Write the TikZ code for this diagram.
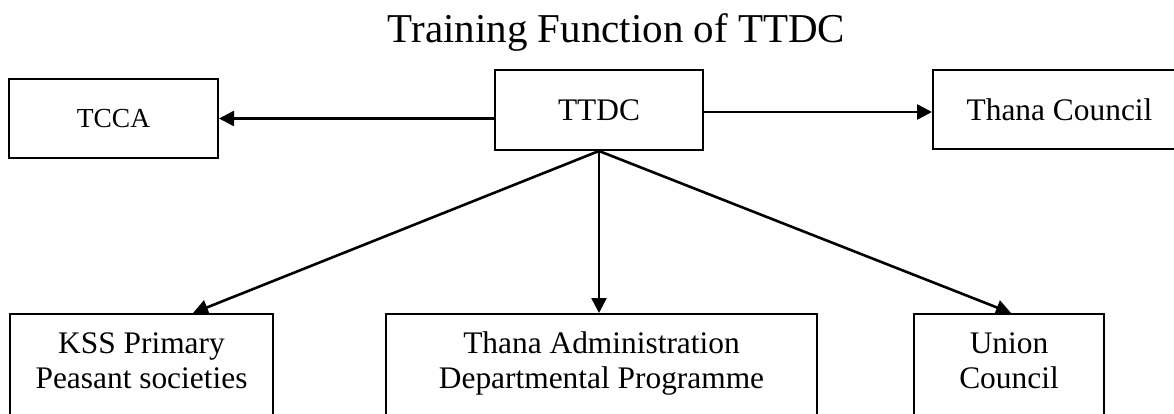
\documentclass[tikz,border=0pt]{standalone}
\usepackage{fontspec}
\setmainfont{Liberation Serif}
\usetikzlibrary{arrows.meta,calc}
\tikzset{
  box/.style={draw=black, line width=2pt, rectangle, inner sep=0pt},
  conn/.style={line width=2.6pt, -{Triangle[length=15pt,width=15pt]}},
  lbl/.style={inner sep=0pt, align=center, font=\fontsize{31.4}{35}\selectfont},
}
\begin{document}
\begin{tikzpicture}[x=1pt,y=-1pt]
\useasboundingbox (0,0) rectangle (1174,414);
\clip (0,0) rectangle (1174,414);
% title
\node[inner sep=0pt, anchor=base, font=\fontsize{41}{45}\selectfont] (title) at (616.5,43) {Training Function of TTDC};
% top row
\node[box, minimum width=209pt, minimum height=79pt, font=\fontsize{27.5}{30}\selectfont] (tcca) at (113.5,118.5) {TCCA};
\node[box, minimum width=208pt, minimum height=80pt, font=\fontsize{31.4}{35}\selectfont] (ttdc) at (599,110) {TTDC};
\node[box, minimum width=253pt, minimum height=79pt, font=\fontsize{31.4}{35}\selectfont] (thana) at (1059.5,109.5) {Thana Council};
% bottom row
\node[box, anchor=north west, minimum width=263pt, minimum height=110pt] (kss) at (9,313) {};
\node[box, anchor=north west, minimum width=431pt, minimum height=110pt] (admin) at (385,313) {};
\node[box, anchor=north west, minimum width=190pt, minimum height=110pt] (union) at (913,313) {};
\node[lbl, anchor=base] (kssT) at ($(kss.north)+(0,75)$) {KSS Primary\\Peasant societies};
\node[lbl, anchor=base] (adminT) at ($(admin.north)+(0,75)$) {Thana Administration\\Departmental Programme};
\node[lbl, anchor=base] (unionT) at ($(union.north)+(0,75)$) {Union\\Council};
% connectors
\draw[conn] (ttdc.west |- tcca.east) -- (tcca.east);
\draw[conn] ($(ttdc.east)+(0,2)$) -- ($(thana.west)+(0,2.5)$);
\draw[conn] (ttdc.south) -- ($(kss.north west)+(184,0)$);
\draw[conn] (ttdc.south) -- (ttdc.south |- admin.north);
\draw[conn] (ttdc.south) -- ($(union.north)+(2,0)$);
\end{tikzpicture}
\end{document}
